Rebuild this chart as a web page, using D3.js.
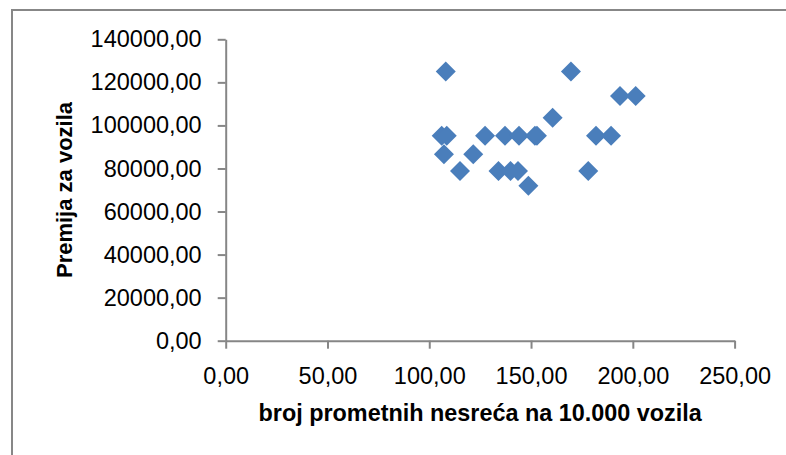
<!DOCTYPE html>
<html>
<head>
<meta charset="utf-8">
<script src="https://cdn.jsdelivr.net/npm/d3@7"></script>
<style>
  html, body { margin: 0; padding: 0; background: #fff; }
  svg { display: block; }
  text { font-family: "Liberation Sans", Arial, sans-serif; fill: #000; }
</style>
</head>
<body>
<svg id="chart" width="786" height="455"></svg>
<script>
// Data
const accidents = [108.1, 169.6, 193.7, 201.4, 160.6, 106.1, 108.6, 127.4, 137.2, 144.1, 151.9, 152.9, 181.9, 189.3, 107.2, 121.6, 115.1, 134.0, 139.9, 143.6, 178.1, 148.7];
const premiums  = [125000, 125000, 113700, 113700, 103600, 95200, 95200, 95200, 95200, 95200, 95200, 95200, 95200, 95200, 86600, 86600, 78800, 78800, 78800, 78800, 78800, 72000];
const xTicks = [0, 50, 100, 150, 200, 250];
const yTicks = [0, 20000, 40000, 60000, 80000, 100000, 120000, 140000];
const xTitle = "broj prometnih nesreća na 10.000 vozila";
const yTitle = "Premija za vozila";

const svg = d3.select("#chart");
const fmt = d => d3.format(".2f")(d).replace(".", ",");

// outer frame
svg.append("path")
  .attr("d", "M12,455 L12,10 L786,10")
  .attr("fill", "none").attr("stroke", "#878787").attr("stroke-width", 2);

const x = d3.scaleLinear().domain([0, 250]).range([225.7, 734.6]);
const y = d3.scaleLinear().domain([0, 140000]).range([340.7, 39.3]);

const axisColor = "#868686";

const gx = svg.append("g").attr("transform", `translate(0,${y(0)})`)
  .call(d3.axisBottom(x).tickValues(xTicks).tickFormat(fmt).tickSizeInner(8).tickSizeOuter(0).tickPadding(19));
const gy = svg.append("g").attr("transform", `translate(${x(0)},0)`)
  .call(d3.axisLeft(y).tickValues(yTicks).tickFormat(fmt).tickSizeInner(8).tickSizeOuter(0).tickPadding(16));

[gx, gy].forEach(g => {
  g.select(".domain").attr("stroke", axisColor).attr("stroke-width", 2);
  g.selectAll(".tick line").attr("stroke", axisColor).attr("stroke-width", 2);
  g.selectAll(".tick text").attr("font-size", 23.5).attr("font-family", "Liberation Sans, Arial, sans-serif").attr("fill", "#000");
});

// points (diamonds)
const diamond = d3.symbol().type(d3.symbolSquare).size(200);
svg.append("g").selectAll("path")
  .data(accidents.map((a, i) => [a, premiums[i]]))
  .join("path")
  .attr("d", diamond)
  .attr("transform", d => `translate(${x(d[0])},${y(d[1])}) rotate(45)`)
  .attr("fill", "#4a7ebb");

// axis titles
svg.append("text")
  .attr("x", (x(0) + x(250)) / 2).attr("y", 421)
  .attr("text-anchor", "middle")
  .attr("font-size", 23.4).attr("font-weight", "bold")
  .text(xTitle);

svg.append("text")
  .attr("transform", `translate(72,${(y(0) + y(140000)) / 2}) rotate(-90)`)
  .attr("text-anchor", "middle")
  .attr("font-size", 22).attr("font-weight", "bold")
  .text(yTitle);
</script>
</body>
</html>
